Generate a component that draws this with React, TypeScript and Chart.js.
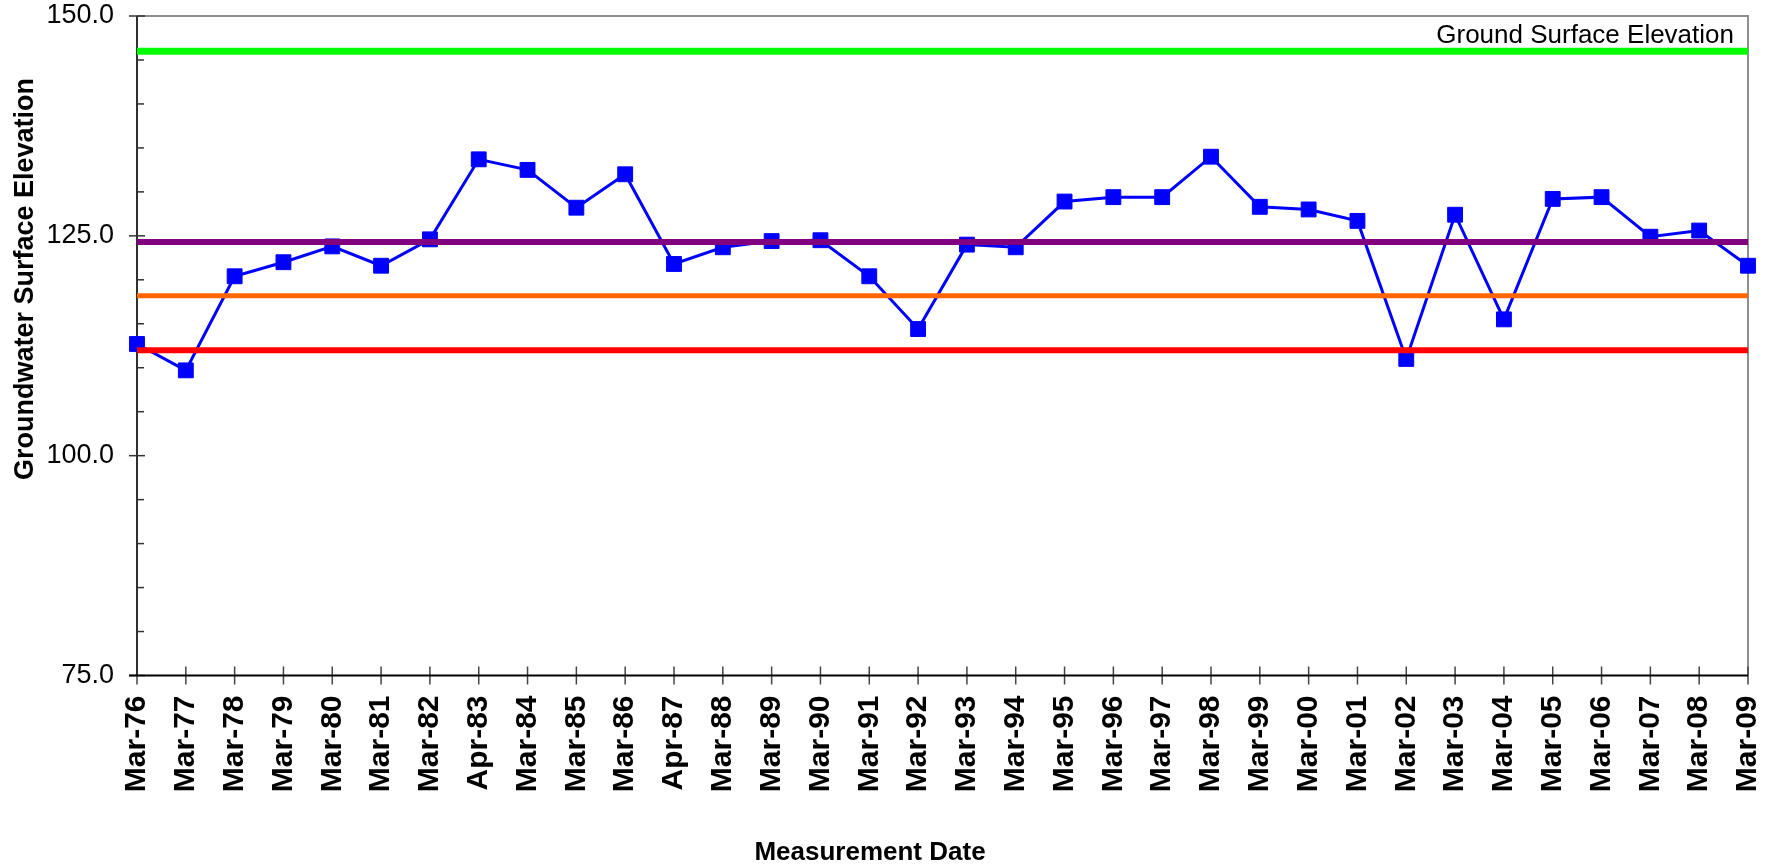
import React, { useEffect, useRef } from 'react';
import { Chart, registerables } from 'chart.js';

Chart.register(...registerables);

const dateLabels = [
  'Mar-76', 'Mar-77', 'Mar-78', 'Mar-79', 'Mar-80', 'Mar-81', 'Mar-82', 'Apr-83',
  'Mar-84', 'Mar-85', 'Mar-86', 'Apr-87', 'Mar-88', 'Mar-89', 'Mar-90', 'Mar-91',
  'Mar-92', 'Mar-93', 'Mar-94', 'Mar-95', 'Mar-96', 'Mar-97', 'Mar-98', 'Mar-99',
  'Mar-00', 'Mar-01', 'Mar-02', 'Mar-03', 'Mar-04', 'Mar-05', 'Mar-06', 'Mar-07',
  'Mar-08', 'Mar-09',
];

const groundwaterElevation = [
  112.7, 109.7, 120.4, 122.0, 123.8, 121.6, 124.6, 133.7,
  132.5, 128.2, 132.0, 121.8, 123.7, 124.4, 124.5, 120.4,
  114.4, 124.0, 123.7, 128.9, 129.4, 129.4, 134.0, 128.3,
  128.0, 126.7, 111.0, 127.4, 115.5, 129.2, 129.4, 124.9,
  125.6, 121.6,
];

const groundSurfaceElevation = 146.0;
const purpleLevel = 124.3;
const orangeLevel = 118.2;
const redLevel = 112.0;

const yMin = 75;
const yMax = 150;
const yMinorStep = 5;
const yMajorStep = 25;

const groundSurfaceLabel = 'Ground Surface Elevation';
const yAxisTitle = 'Groundwater Surface Elevation';
const xAxisTitle = 'Measurement Date';

const FONT = '"Liberation Sans", Arial, Helvetica, sans-serif';

const refLine = (value: number, color: string, width: number) => ({
  type: 'line' as const,
  data: [
    { x: dateLabels[0], y: value },
    { x: dateLabels[dateLabels.length - 1], y: value },
  ],
  borderColor: color,
  backgroundColor: color,
  borderWidth: width,
  pointRadius: 0,
  borderCapStyle: 'butt' as const,
  clip: false as const,
});

const zeroPadding = (scale: any) => {
  scale.paddingTop = 0;
  scale.paddingBottom = 0;
  scale.paddingLeft = 0;
  scale.paddingRight = 0;
};

const framePlugin = {
  id: 'frameTicks',
  beforeDatasetsDraw(chart: any) {
    const { ctx, chartArea, scales } = chart;
    const { left, right, top, bottom } = chartArea;
    ctx.save();
    ctx.lineCap = 'butt';
    // top & right border
    ctx.strokeStyle = '#8f8f8f';
    ctx.lineWidth = 2;
    ctx.beginPath();
    ctx.moveTo(left, top);
    ctx.lineTo(right, top);
    ctx.lineTo(right, bottom);
    ctx.stroke();

    // y ticks
    ctx.strokeStyle = '#333333';
    ctx.lineWidth = 1.5;
    const ys = scales.y;
    ys.ticks.forEach((t: any) => {
      const py = ys.getPixelForValue(t.value);
      const major = t.value % yMajorStep === 0;
      ctx.beginPath();
      ctx.moveTo(major ? left - 8 : left, py);
      ctx.lineTo(left + (major ? 8 : 7), py);
      ctx.stroke();
    });

    // x ticks
    const xs = scales.x;
    ctx.strokeStyle = '#444444';
    dateLabels.forEach((_, i) => {
      const px = xs.getPixelForValue(i);
      ctx.beginPath();
      ctx.moveTo(px, bottom - 9);
      ctx.lineTo(px, bottom + 9);
      ctx.stroke();
    });

    // left axis
    ctx.strokeStyle = '#303030';
    ctx.lineWidth = 2;
    ctx.beginPath();
    ctx.moveTo(left, top);
    ctx.lineTo(left, bottom);
    ctx.stroke();
    // bottom axis
    ctx.strokeStyle = '#000000';
    ctx.beginPath();
    ctx.moveTo(left - 8, bottom);
    ctx.lineTo(right, bottom);
    ctx.stroke();
    ctx.restore();
  },
  afterDraw(chart: any) {
    const { ctx, chartArea, scales } = chart;
    ctx.save();
    ctx.fillStyle = '#000000';
    // Ground surface label
    ctx.font = `26px ${FONT}`;
    ctx.textAlign = 'right';
    ctx.textBaseline = 'alphabetic';
    ctx.fillText(groundSurfaceLabel, chartArea.right - 14, scales.y.getPixelForValue(groundSurfaceElevation) - 8);

    // y title
    ctx.save();
    ctx.translate(33, 279);
    ctx.rotate(-Math.PI / 2);
    ctx.font = `bold 27px ${FONT}`;
    ctx.textAlign = 'center';
    ctx.textBaseline = 'alphabetic';
    ctx.fillText(yAxisTitle, 0, 0);
    ctx.restore();

    // x title
    ctx.font = `bold 26px ${FONT}`;
    ctx.textAlign = 'center';
    ctx.textBaseline = 'alphabetic';
    ctx.fillText(xAxisTitle, 870, 860);
    ctx.restore();
  },
};

export default function App() {
  const canvasRef = useRef<HTMLCanvasElement | null>(null);

  useEffect(() => {
    const canvas = canvasRef.current;
    if (!canvas) return;
    const chart = new Chart(canvas, {
      type: 'line',
      data: {
        labels: dateLabels,
        datasets: [
          refLine(redLevel, '#ff0000', 6),
          refLine(orangeLevel, '#ff6600', 5),
          refLine(purpleLevel, '#800080', 6),
          refLine(groundSurfaceElevation, '#00ff00', 7),
          {
            data: groundwaterElevation,
            borderColor: '#0000ff',
            backgroundColor: '#0000ff',
            borderWidth: 3,
            pointStyle: 'rect',
            pointRadius: 10.5,
            pointBorderWidth: 1,
            pointBorderColor: '#0000ff',
            pointBackgroundColor: '#0000ff',
            tension: 0,
            clip: false,
          } as any,
        ],
      },
      options: {
        responsive: false,
        animation: false,
        layout: { padding: { left: 0, top: 16, right: 28, bottom: 0 } },
        plugins: {
          legend: { display: false },
          tooltip: { enabled: false },
          title: { display: false },
        },
        scales: {
          x: {
            type: 'category',
            offset: false,
            grid: { display: false, drawTicks: false },
            border: { display: false },
            ticks: {
              autoSkip: false,
              maxRotation: 90,
              minRotation: 90,
              padding: 20,
              color: '#000000',
              font: { family: FONT, size: 30, weight: 'bold' },
            },
            afterFit: (scale: any) => {
              scale.height = 190.5;
              zeroPadding(scale);
            },
          },
          y: {
            min: yMin,
            max: yMax,
            grid: { display: false, drawTicks: false },
            border: { display: false },
            ticks: {
              stepSize: yMinorStep,
              padding: 23,
              color: '#000000',
              font: { family: FONT, size: 27 },
              callback: (v: any) => (Number(v) % yMajorStep === 0 ? Number(v).toFixed(1) : ''),
            },
            afterFit: (scale: any) => {
              scale.width = 137;
              zeroPadding(scale);
            },
          },
        },
      },
      plugins: [framePlugin],
    });
    return () => chart.destroy();
  }, []);

  return (
    <div style={{ position: 'fixed', left: 0, top: 0, width: 1776, height: 866, background: '#ffffff' }}>
      <canvas ref={canvasRef} width={1776} height={866} style={{ display: 'block', width: 1776, height: 866 }} />
    </div>
  );
}
